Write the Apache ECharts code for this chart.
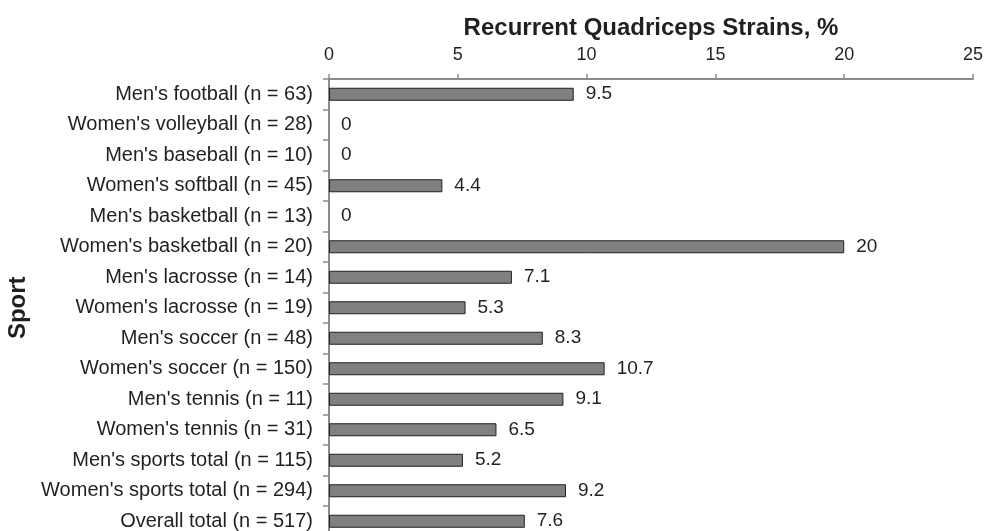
<!DOCTYPE html>
<html>
<head>
<meta charset="utf-8">
<script src="https://cdn.jsdelivr.net/npm/echarts@6/dist/echarts.min.js"></script>
<style>
  html, body { margin: 0; padding: 0; background: #fff; }
  #chart { width: 986px; height: 531px; }
</style>
</head>
<body>
<div id="chart"></div>
<script>
// rows, top to bottom
const sports = [
  "Men's football (n = 63)",
  "Women's volleyball (n = 28)",
  "Men's baseball (n = 10)",
  "Women's softball (n = 45)",
  "Men's basketball (n = 13)",
  "Women's basketball (n = 20)",
  "Men's lacrosse (n = 14)",
  "Women's lacrosse (n = 19)",
  "Men's soccer (n = 48)",
  "Women's soccer (n = 150)",
  "Men's tennis (n = 11)",
  "Women's tennis (n = 31)",
  "Men's sports total (n = 115)",
  "Women's sports total (n = 294)",
  "Overall total (n = 517)"
];
const strainPct = [9.5, 0, 0, 4.4, 0, 20, 7.1, 5.3, 8.3, 10.7, 9.1, 6.5, 5.2, 9.2, 7.6];
const xTicks = [0, 5, 10, 15, 20, 25];

const textColor = "#231f20";
const axisColor = "#8c8c8c";
const fontFamily = "'Liberation Sans', Arial, sans-serif";

const chart = echarts.init(document.getElementById("chart"));

// zero bars have no visible outline in the original
const barData = strainPct.map((v) => ({
  value: v,
  itemStyle: v === 0 ? { borderWidth: 0, opacity: 0 } : undefined
}));

const option = {
  animation: false,
  textStyle: { fontFamily: fontFamily },
  grid: {
    left: 329,
    top: 79,
    width: 644,
    height: 457.5,
    containLabel: false,
    outerBoundsMode: "none"
  },
  xAxis: {
    type: "value",
    position: "top",
    min: xTicks[0],
    max: xTicks[xTicks.length - 1],
    interval: 5,
    name: "Recurrent Quadriceps Strains, %",
    nameLocation: "middle",
    nameGap: 39,
    nameTextStyle: { fontSize: 24, fontWeight: "bold", color: textColor, fontFamily: fontFamily },
    axisLine: { show: true, lineStyle: { color: axisColor, width: 2 } },
    axisTick: { show: true, length: 5, lineStyle: { color: axisColor, width: 1.5 } },
    axisLabel: { fontSize: 18, color: textColor, margin: 15, fontFamily: fontFamily },
    splitLine: { show: false }
  },
  yAxis: {
    type: "category",
    data: sports,
    inverse: true,
    name: "Sport",
    nameLocation: "middle",
    nameRotate: 90,
    nameGap: 297,
    nameTextStyle: { fontSize: 24, fontWeight: "bold", color: textColor, fontFamily: fontFamily },
    axisLine: { show: true, lineStyle: { color: axisColor, width: 2 } },
    axisTick: { show: true, length: 6, lineStyle: { color: axisColor, width: 1.5 } },
    axisLabel: { fontSize: 20, color: textColor, margin: 16, fontFamily: fontFamily }
  },
  series: [
    {
      type: "bar",
      data: barData,
      barWidth: 13,
      itemStyle: { color: "#808080", borderColor: textColor, borderWidth: 1 },
      label: {
        show: true,
        position: "right",
        distance: 12,
        fontSize: 19,
        color: textColor,
        fontFamily: fontFamily,
        opacity: 1
      }
    }
  ]
};

chart.setOption(option);
</script>
</body>
</html>
